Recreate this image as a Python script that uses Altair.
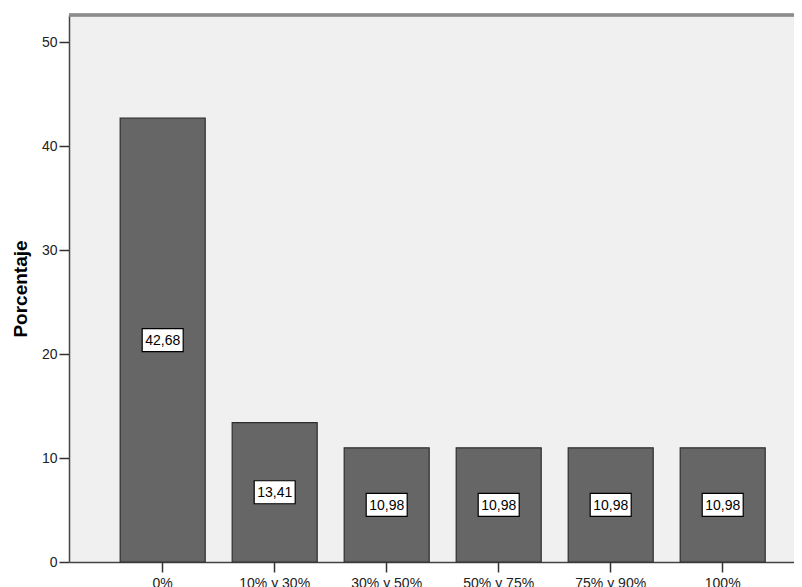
import altair as alt
import pandas as pd

categories = ["0%", "10% y 30%", "30% y 50%", "50% y 75%", "75% y 90%", "100%"]
values = [42.68, 13.41, 10.98, 10.98, 10.98, 10.98]
labels = ["42,68", "13,41", "10,98", "10,98", "10,98", "10,98"]
y_ticks = [0, 10, 20, 30, 40, 50]

df = pd.DataFrame({"cat": categories, "val": values, "lab": labels})

FONT = "Liberation Sans"
W, H = 725, 547

x = alt.X(
    "cat:N",
    sort=categories,
    scale=alt.Scale(paddingInner=0.241, paddingOuter=0.357, align=0.64),
    axis=alt.Axis(
        title=None, labelAngle=0, labelFont=FONT, labelFontSize=14,
        labelColor="#222222", tickSize=10, tickColor="#333333", tickWidth=1.5,
        domainColor="#444444", domainWidth=1.5, labelPadding=4,
    ),
)

base = alt.Chart(df)

top_border = base.mark_rule(color="#8c8c8c", strokeWidth=2.5).encode(
    x=alt.value(0), x2=alt.value(W), y=alt.value(0)
)

bars = base.mark_bar(fill="#666666", stroke="#2e2e2e", strokeWidth=1.2).encode(
    x=x,
    y=alt.Y(
        "val:Q",
        scale=alt.Scale(domain=[0, 52.6], nice=False),
        axis=alt.Axis(
            values=y_ticks, grid=False, title="Porcentaje",
            titleFont=FONT, titleFontSize=19, titleFontWeight="bold",
            titleColor="#000000", titleX=-43, titleY=H / 2,
            titleAngle=270, titleAlign="center", titleBaseline="alphabetic",
            labelFont=FONT, labelFontSize=14, labelColor="#222222",
            tickSize=10, tickColor="#333333", tickWidth=1.5,
            domainColor="#444444", domainWidth=1.5, labelPadding=2,
        ),
    ),
)

boxes = base.transform_calculate(mid="datum.val / 2").mark_point(
    shape="M-20.5,-11.5H20.5V11.5H-20.5Z", size=4, filled=True,
    fill="white", stroke="#000000", strokeWidth=1.2, opacity=1,
).encode(x=x, y=alt.Y("mid:Q"))

texts = base.transform_calculate(mid="datum.val / 2").mark_text(
    font=FONT, fontSize=14, color="#000000", baseline="middle", dy=1
).encode(x=x, y=alt.Y("mid:Q"), text="lab:N")

chart = (
    alt.layer(bars, boxes, texts, top_border)
    .properties(
        width=W, height=H,
        autosize=alt.AutoSizeParams(type="none"),
        padding={"left": 61, "top": 7, "right": 0, "bottom": 25},
        background="white",
    )
    .configure_view(fill="#f0f0f0", strokeWidth=0)
)

chart.save("out.html", embed_options={"renderer": "svg", "actions": False})
